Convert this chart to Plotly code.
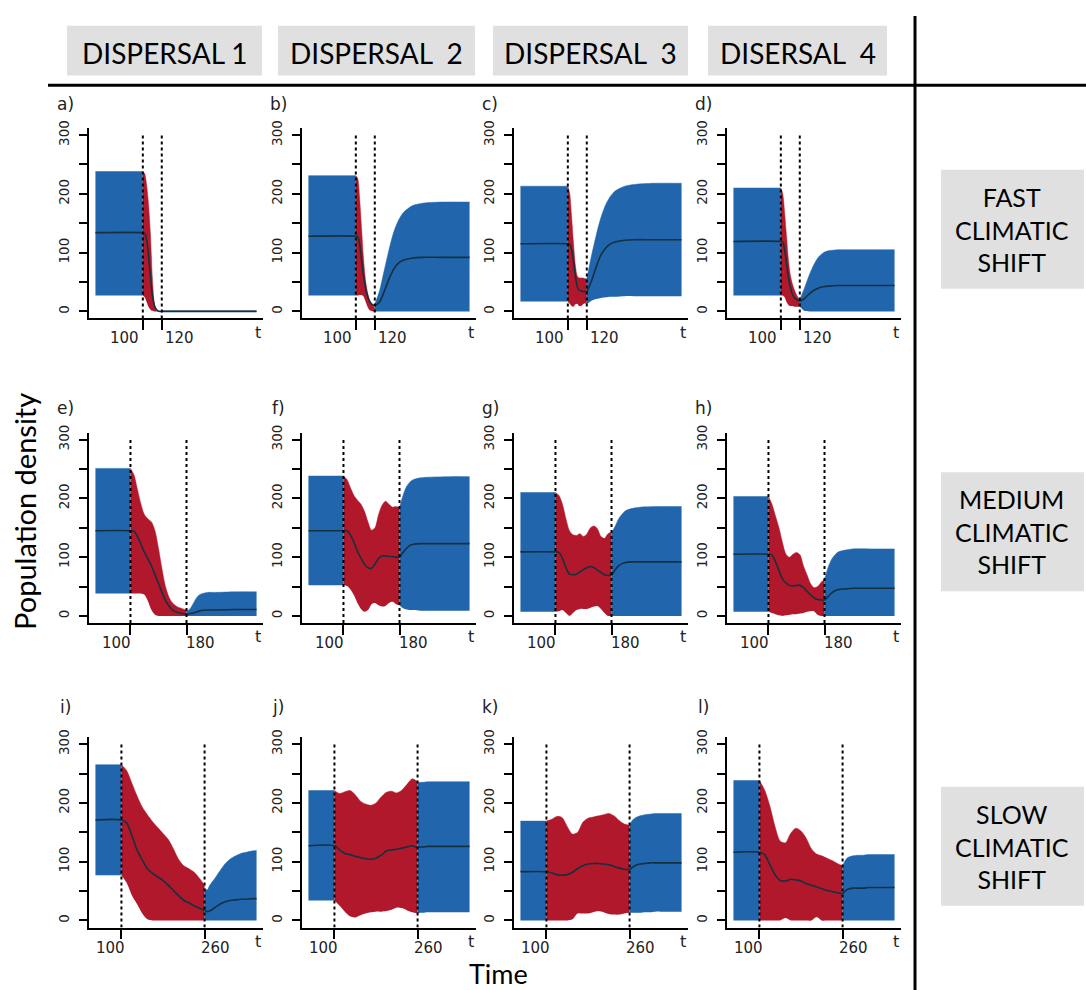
import plotly.graph_objects as go

W, H = 1086, 990

BLUE = "#2166ac"
RED = "#b2182b"
MEAN_COLOR = "#15303f"
BOX_GREY = "#e0e0e0"
AXIS_FONT = "DejaVu Sans"
TITLE_FONT = "Lato"

# ---------------------------------------------------------------- labels
panel_letters = ["a)", "b)", "c)", "d)", "e)", "f)", "g)", "h)", "i)", "j)", "k)", "l)"]
dispersal_titles = ["DISPERSAL 1", "DISPERSAL  2", "DISPERSAL  3", "DISERSAL  4"]
shift_titles = ["FAST<br>CLIMATIC<br>SHIFT", "MEDIUM<br>CLIMATIC<br>SHIFT", "SLOW<br>CLIMATIC<br>SHIFT"]
y_tick_values = [0, 50, 100, 150, 200, 250, 300]
y_tick_text = ["0", "", "100", "", "200", "", "300"]

# ---------------------------------------------------------------- time frames
t_begin = 50
shift_start = 100
shift_end = [120, 180, 260]
t_final = [220, 280, 360]

fast_red_t = [100, 102, 104, 106, 108, 110, 112, 114, 116, 118, 120]
fast_post_t = [120, 125, 130, 135, 140, 145, 150, 160, 170, 190, 220]
medium_red_t = [100, 105, 110, 115, 120, 125, 130, 135, 140, 145, 150, 155, 160, 165, 170, 175, 180]
medium_post_t = [180, 185, 190, 195, 200, 210, 220, 250, 280]
slow_red_t = [100, 110, 120, 130, 140, 150, 160, 170, 180, 190, 200, 210, 220, 230, 240, 250, 260]
slow_post_t = [260, 265, 270, 280, 290, 300, 310, 320, 330, 340, 350, 360]

# ---------------------------------------------------------------- before the shift (panels a..l)
pre_upper = [238, 231, 213, 210, 251, 238, 210, 203, 265, 221, 169, 238]
pre_lower = [27, 27, 17, 27, 38, 52, 7, 7, 77, 34, 0, 0]
pre_mean = [134, 128, 115, 119, 145, 145, 109, 105, 171, 127, 83, 116]

# ---------------------------------------------------------------- during the shift (panels a..l)
red_upper = [
    [238, 234, 215, 182, 132, 58, 16, 2, 0, 0, 0],
    [231, 226, 192, 142, 92, 56, 35, 22, 14, 9, 6],
    [213, 200, 160, 115, 78, 60, 57, 57, 57, 56, 55],
    [210, 200, 168, 128, 88, 62, 48, 38, 30, 24, 20],
    [251, 240, 215, 190, 172, 165, 160, 145, 115, 80, 50, 32, 22, 17, 14, 12, 10],
    [238, 232, 218, 205, 197, 190, 178, 160, 146, 150, 172, 188, 195, 190, 185, 186, 184],
    [210, 205, 190, 165, 145, 138, 137, 140, 135, 140, 150, 153, 148, 135, 132, 140, 142],
    [203, 190, 170, 150, 125, 105, 100, 105, 108, 104, 85, 70, 55, 48, 50, 57, 63],
    [265, 255, 234, 212, 193, 180, 168, 158, 148, 138, 122, 104, 93, 88, 82, 72, 60],
    [221, 216, 219, 221, 214, 203, 198, 196, 200, 210, 218, 220, 217, 222, 232, 241, 236],
    [169, 172, 177, 175, 160, 147, 150, 167, 174, 176, 178, 180, 182, 178, 170, 164, 162],
    [238, 222, 195, 160, 135, 132, 148, 157, 152, 140, 122, 113, 110, 106, 102, 97, 93],
]
red_lower = [
    [27, 24, 16, 8, 3, 1, 0, 0, 0, 0, 0],
    [27, 27, 28, 28, 26, 18, 9, 3, 1, 0, 0],
    [17, 13, 9, 8, 12, 13, 9, 9, 12, 14, 12],
    [27, 27, 24, 16, 11, 9, 9, 8, 8, 8, 8],
    [38, 38, 38, 38, 36, 25, 10, 2, 0, 0, 0, 0, 0, 0, 0, 0, 0],
    [52, 51, 45, 35, 22, 12, 7, 10, 20, 22, 18, 16, 17, 22, 24, 20, 18],
    [7, 8, 10, 5, 0, 5, 10, 12, 12, 12, 14, 16, 17, 12, 5, 0, 0],
    [7, 5, 3, 1, 0, 1, 2, 3, 3, 4, 5, 7, 8, 8, 2, 0, 0],
    [77, 64, 43, 28, 12, 2, 0, 0, 0, 0, 0, 0, 0, 0, 0, 0, 0],
    [34, 25, 15, 7, 5, 9, 12, 14, 15, 15, 16, 18, 22, 21, 17, 14, 12],
    [0, 0, 0, 0, 0, 2, 12, 12, 12, 14, 16, 14, 11, 10, 10, 12, 13],
    [0, 0, 0, 0, 0, 4, 0, 0, 0, 0, 0, 6, 0, 0, 0, 0, 0],
]
red_mean = [
    [134, 133, 122, 95, 60, 28, 11, 4, 1, 0, 0],
    [128, 127, 115, 88, 62, 42, 28, 19, 14, 11, 10],
    [115, 114, 105, 85, 60, 42, 36, 35, 34, 34, 34],
    [119, 118, 105, 82, 58, 42, 30, 24, 21, 19, 18],
    [145, 144, 135, 122, 108, 97, 85, 70, 55, 40, 26, 17, 10, 7, 5, 4, 3],
    [145, 145, 138, 125, 110, 98, 88, 82, 81, 88, 98, 102, 102, 101, 101, 100, 100],
    [109, 108, 98, 82, 71, 70, 71, 75, 79, 82, 84, 82, 78, 74, 70, 69, 70],
    [105, 104, 92, 77, 63, 56, 52, 51, 52, 52, 48, 42, 36, 31, 28, 27, 27],
    [171, 166, 145, 120, 103, 88, 80, 74, 68, 60, 51, 42, 34, 30, 25, 21, 17],
    [127, 120, 114, 112, 109, 107, 105, 104, 106, 111, 118, 120, 121, 123, 125, 127, 124],
    [83, 81, 78, 77, 78, 82, 88, 93, 96, 97, 97, 96, 95, 92, 89, 87, 87],
    [116, 112, 95, 78, 68, 67, 70, 69, 67, 63, 60, 57, 54, 51, 49, 47, 46],
]

# ---------------------------------------------------------------- after the shift (panels a..l)
post_upper = [
    [1, 1, 1, 1, 1, 1, 1, 1, 1, 1, 1],
    [12, 35, 70, 105, 135, 155, 168, 180, 184, 186, 186],
    [55, 95, 130, 160, 182, 196, 205, 213, 216, 218, 218],
    [20, 40, 62, 80, 93, 100, 103, 105, 105, 105, 105],
    [8, 12, 22, 32, 37, 40, 40, 41, 41],
    [184, 205, 220, 228, 232, 235, 236, 237, 237],
    [142, 152, 165, 173, 179, 183, 185, 186, 186],
    [62, 82, 96, 104, 109, 112, 114, 114, 114],
    [55, 52, 60, 72, 85, 97, 105, 110, 114, 116, 118, 119],
    [234, 235, 235, 236, 236, 236, 236, 236, 236, 236, 236, 236],
    [162, 170, 174, 178, 180, 181, 182, 182, 182, 182, 182, 182],
    [93, 102, 107, 110, 111, 111, 112, 112, 112, 112, 112, 112],
]
post_lower = [
    [0, 0, 0, 0, 0, 0, 0, 0, 0, 0, 0],
    [0, 0, 0, 0, 0, 0, 0, 0, 0, 0, 0],
    [12, 18, 21, 23, 24, 25, 25, 26, 26, 26, 26],
    [8, 1, 0, 0, 0, 0, 0, 0, 0, 0, 0],
    [0, 0, 0, 0, 0, 0, 0, 0, 0],
    [18, 13, 11, 10, 10, 9, 9, 9, 9],
    [0, 0, 0, 0, 0, 0, 0, 0, 0],
    [0, 0, 0, 0, 0, 0, 0, 0, 0],
    [0, 0, 0, 0, 0, 0, 0, 0, 0, 0, 0, 0],
    [12, 13, 13, 14, 14, 14, 14, 14, 14, 14, 14, 14],
    [13, 13, 13, 13, 14, 14, 15, 15, 15, 15, 15, 15],
    [0, 0, 0, 0, 0, 0, 0, 0, 0, 0, 0, 0],
]
post_mean = [
    [0, 0, 0, 0, 0, 0, 0, 0, 0, 0, 0],
    [10, 16, 34, 55, 72, 82, 87, 91, 92, 92, 92],
    [34, 52, 76, 96, 108, 115, 118, 121, 122, 122, 122],
    [18, 22, 30, 36, 40, 42, 43, 44, 44, 44, 44],
    [3, 4, 5, 7, 9, 10, 10, 11, 11],
    [100, 108, 115, 120, 122, 123, 123, 123, 123],
    [70, 78, 85, 89, 91, 92, 92, 92, 92],
    [27, 33, 39, 43, 45, 46, 47, 47, 47],
    [17, 15, 16, 22, 28, 32, 34, 35, 36, 36, 37, 37],
    [124, 125, 125, 126, 126, 126, 126, 126, 126, 126, 126, 126],
    [87, 90, 93, 96, 97, 98, 98, 98, 98, 98, 98, 98],
    [46, 50, 53, 55, 55, 55, 56, 56, 56, 56, 56, 56],
]

red_times = [fast_red_t, medium_red_t, slow_red_t]
post_times = [fast_post_t, medium_post_t, slow_post_t]

# ---------------------------------------------------------------- page geometry (pixels)
col_left = [89, 302, 514, 727]
row_bottom = [313, 620, 927]
panel_w, panel_h = 174, 192
letter_y = [97, 403, 705]
tick_label_shift = [18, 14, 11]
y_lim = [-12, 312]
dotted_top = 304


def px(x):
    return x / W


def py(y):
    return 1 - y / H


fig = go.Figure()
annotations = []
shapes = []


def band(t_lo, lo, t_hi, hi, color, xa, ya):
    fig.add_trace(go.Scatter(x=t_lo, y=lo, mode="lines", line=dict(width=0, shape="spline", smoothing=0.8),
                             xaxis=xa, yaxis=ya, hoverinfo="skip"))
    fig.add_trace(go.Scatter(x=t_hi, y=hi, mode="lines", fill="tonexty", fillcolor=color,
                             line=dict(width=0.5, color=color, shape="spline", smoothing=0.8),
                             xaxis=xa, yaxis=ya, hoverinfo="skip"))


for p in range(12):
    r, c = divmod(p, 4)
    n = p + 1
    xa = "x" if n == 1 else f"x{n}"
    ya = "y" if n == 1 else f"y{n}"
    xkey = "xaxis" if n == 1 else f"xaxis{n}"
    ykey = "yaxis" if n == 1 else f"yaxis{n}"

    span = t_final[r] - t_begin
    x_range = [t_begin - 0.04 * span, t_final[r] + 0.04 * span]

    left = col_left[c]
    bottom = row_bottom[r]
    fig.layout[xkey] = dict(
        domain=[px(left), px(left + panel_w)], anchor=ya, range=x_range,
        showgrid=False, zeroline=False, showline=True, linecolor="black", linewidth=1.5,
        tickvals=[shift_start, shift_end[r]], ticks="outside", ticklen=10, tickwidth=1.5,
        tickcolor="black", showticklabels=False, fixedrange=True,
    )
    fig.layout[ykey] = dict(
        domain=[py(bottom), py(bottom - panel_h)], anchor=xa, range=y_lim,
        showgrid=False, zeroline=False, showline=True, linecolor="black", linewidth=1.5,
        tickvals=y_tick_values, ticktext=y_tick_text, ticks="outside", ticklen=8, tickwidth=1.5,
        tickcolor="black", tickangle=-90, ticklabelstandoff=5,
        tickfont=dict(family=AXIS_FONT, size=13.5, color="#222"), fixedrange=True,
    )

    rt = red_times[r]
    pt = post_times[r]
    # population envelope before, during and after the climatic shift
    band([t_begin, shift_start], [pre_lower[p]] * 2, [t_begin, shift_start], [pre_upper[p]] * 2, BLUE, xa, ya)
    band(rt, red_lower[p], rt, red_upper[p], RED, xa, ya)
    band(pt, post_lower[p], pt, post_upper[p], BLUE, xa, ya)

    # mean trajectory across the whole run
    mean_t = [t_begin, shift_start] + rt[1:] + pt[1:]
    mean_y = [pre_mean[p]] * 2 + red_mean[p][1:] + post_mean[p][1:]
    fig.add_trace(go.Scatter(x=mean_t, y=mean_y, mode="lines",
                             line=dict(color=MEAN_COLOR, width=1.6, shape="spline", smoothing=0.8),
                             xaxis=xa, yaxis=ya, hoverinfo="skip"))

    # start and end of the shift
    for tv in (shift_start, shift_end[r]):
        shapes.append(dict(type="line", xref=xa, yref=ya, x0=tv, x1=tv, y0=y_lim[0], y1=dotted_top,
                           line=dict(color="black", width=2, dash="dot"), layer="above"))

    # x tick labels, nudged apart
    for tv, txt, sh in ((shift_start, str(shift_start), -tick_label_shift[r]),
                        (shift_end[r], str(shift_end[r]), tick_label_shift[r])):
        annotations.append(dict(x=tv, y=y_lim[0], xref=xa, yref=ya, text=txt, showarrow=False,
                                xanchor="center", yanchor="middle", xshift=sh, yshift=-20,
                                font=dict(family=AXIS_FONT, size=15, color="#222")))
    annotations.append(dict(x=px(left + 169), y=py(bottom + 14), xref="paper", yref="paper", text="t",
                            showarrow=False, xanchor="center", yanchor="middle",
                            font=dict(family=AXIS_FONT, size=16, color="#222")))
    annotations.append(dict(x=px(left - 24), y=py(letter_y[r]), xref="paper", yref="paper",
                            text=panel_letters[p], showarrow=False, xanchor="center", yanchor="middle",
                            font=dict(family=AXIS_FONT, size=17, color="#222")))

# ---------------------------------------------------------------- column headers
header_boxes = [(67, 262), (278, 475), (493, 688), (708, 887)]
for (x0, x1), title in zip(header_boxes, dispersal_titles):
    shapes.append(dict(type="rect", xref="paper", yref="paper", x0=px(x0), x1=px(x1), y0=py(68), y1=py(18),
                       fillcolor=BOX_GREY, line=dict(width=0), layer="below"))
    annotations.append(dict(x=px((x0 + x1) / 2), y=py(45), xref="paper", yref="paper", text=title,
                            showarrow=False, xanchor="center", yanchor="middle",
                            font=dict(family=TITLE_FONT, size=28, color="black")))

# ---------------------------------------------------------------- row headers
row_boxes = [(163, 283), (468, 588), (785, 905)]
for (y0, y1), title in zip(row_boxes, shift_titles):
    shapes.append(dict(type="rect", xref="paper", yref="paper", x0=px(941), x1=px(1084), y0=py(y1), y1=py(y0),
                       fillcolor=BOX_GREY, line=dict(width=0), layer="below"))
    annotations.append(dict(x=px(1012), y=py((y0 + y1) / 2), xref="paper", yref="paper", text=title,
                            showarrow=False, xanchor="center", yanchor="middle", align="center",
                            font=dict(family=TITLE_FONT, size=25, color="black")))

# ---------------------------------------------------------------- frame lines
shapes.append(dict(type="line", xref="paper", yref="paper", x0=px(48), x1=px(1086), y0=py(78), y1=py(78),
                   line=dict(color="black", width=3)))
shapes.append(dict(type="line", xref="paper", yref="paper", x0=px(915), x1=px(915), y0=py(8), y1=py(990),
                   line=dict(color="black", width=3)))

# ---------------------------------------------------------------- axis titles
annotations.append(dict(x=px(25), y=py(508), xref="paper", yref="paper", text="Population density",
                        showarrow=False, textangle=-90, xanchor="center", yanchor="middle",
                        font=dict(family=TITLE_FONT, size=29, color="black")))
annotations.append(dict(x=px(498), y=py(973), xref="paper", yref="paper", text="Time",
                        showarrow=False, xanchor="center", yanchor="middle",
                        font=dict(family=TITLE_FONT, size=27, color="black")))

fig.update_layout(
    width=W, height=H, margin=dict(l=0, r=0, t=0, b=0),
    paper_bgcolor="white", plot_bgcolor="white", showlegend=False,
    annotations=annotations, shapes=shapes,
)

fig.write_html("out.html")
